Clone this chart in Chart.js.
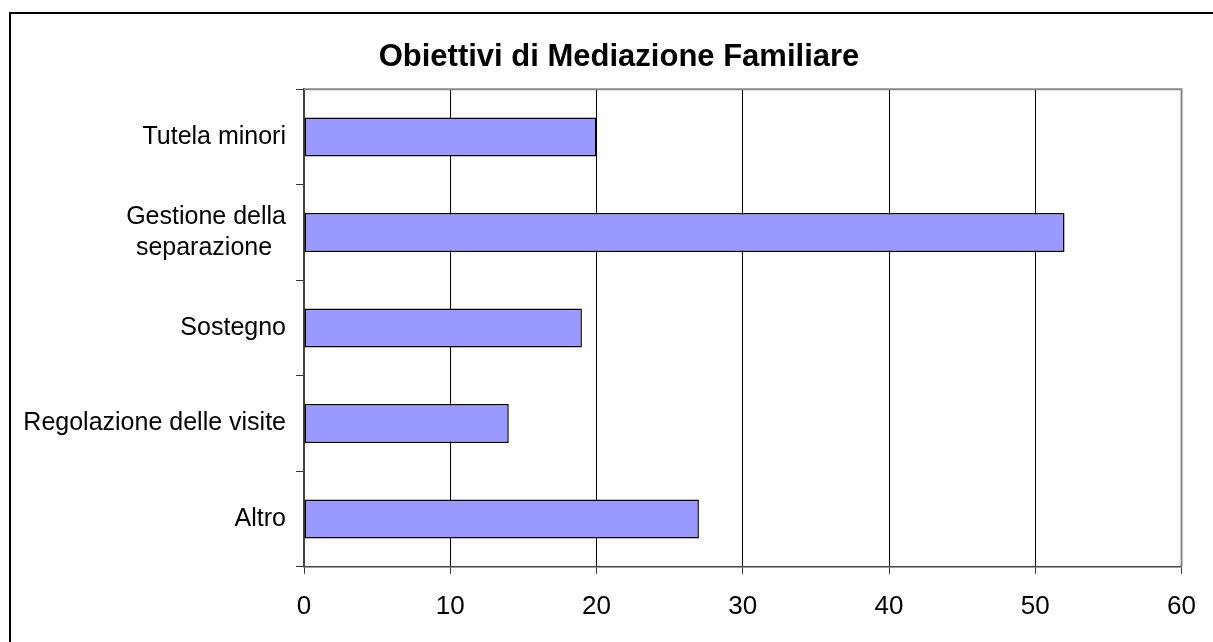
<!DOCTYPE html>
<html>
<head>
<meta charset="utf-8">
<script src="https://cdn.jsdelivr.net/npm/chart.js@4.4.1/dist/chart.umd.min.js"></script>
<style>
  body { margin: 0; background: #fff; }
  #wrap { position: relative; width: 1213px; height: 642px; overflow: hidden; }
  #frame { position: absolute; left: 9px; top: 12px; width: 1300px; height: 700px;
           border-left: 2.5px solid #000; border-top: 2px solid #000; pointer-events: none; }
</style>
</head>
<body>
<div id="wrap">
  <canvas id="chart" width="1213" height="642"></canvas>
  <div id="frame"></div>
</div>
<script>
const chartTitle = 'Obiettivi di Mediazione Familiare';
const categories = [
  'Tutela minori',
  ['Gestione della', 'separazione  '],
  'Sostegno',
  'Regolazione delle visite',
  'Altro'
];
const values = [20, 52, 19, 14, 27];
const xTicks = [0, 10, 20, 30, 40, 50, 60];

const fontFamily = "'Liberation Sans', Arial, sans-serif";

// grey frame round the plot area (Excel style) + title centred like the original
const plotFrame = {
  id: 'plotFrame',
  afterLayout(chart) {
    if (chart.titleBlock) {
      chart.titleBlock.left = 51;
      chart.titleBlock.right = 1187;
    }
  },
  beforeDatasetsDraw(chart) {
    const { ctx, chartArea: a } = chart;
    ctx.save();
    ctx.strokeStyle = '#888';
    ctx.lineWidth = 2;
    ctx.beginPath();
    ctx.moveTo(a.left, a.top);
    ctx.lineTo(a.right, a.top);
    ctx.lineTo(a.right, a.bottom);
    ctx.stroke();
    ctx.restore();
  }
};

new Chart(document.getElementById('chart'), {
  type: 'bar',
  data: {
    labels: categories,
    datasets: [{
      data: values,
      backgroundColor: '#9999FF',
      borderColor: '#000',
      borderWidth: 1.5,
      borderSkipped: false,
      barPercentage: 0.41,
      categoryPercentage: 1
    }]
  },
  options: {
    indexAxis: 'y',
    responsive: false,
    animation: false,
    layout: { padding: { left: 10, right: 26, top: 0, bottom: 3 } },
    plugins: {
      legend: { display: false },
      tooltip: { enabled: false },
      title: {
        display: true,
        text: chartTitle,
        color: '#000',
        font: { family: fontFamily, size: 31, weight: 'bold' },
        padding: { top: 39, bottom: 13 }
      }
    },
    scales: {
      x: {
        min: 0,
        max: 60,
        afterBuildTicks(axis) {
          axis.ticks = xTicks.map(v => ({ value: v }));
        },
        grid: {
          color: ctx => (ctx.tick && ctx.tick.value === 60 ? '#888' : '#000'),
          tickColor: '#333',
          tickLength: 7,
          lineWidth: 1
        },
        border: { color: '#444', width: 1.5 },
        ticks: {
          color: '#000',
          padding: 17,
          maxRotation: 0,
          font: { family: fontFamily, size: 26 }
        }
      },
      y: {
        afterFit(axis) { axis.width = 294; },
        grid: {
          offset: true,
          drawOnChartArea: false,
          tickColor: '#333',
          tickLength: 8
        },
        border: { color: '#444', width: 2 },
        ticks: {
          color: '#000',
          padding: 10,
          font: { family: fontFamily, size: 25, lineHeight: 1.25 }
        }
      }
    }
  },
  plugins: [plotFrame]
});
</script>
</body>
</html>
